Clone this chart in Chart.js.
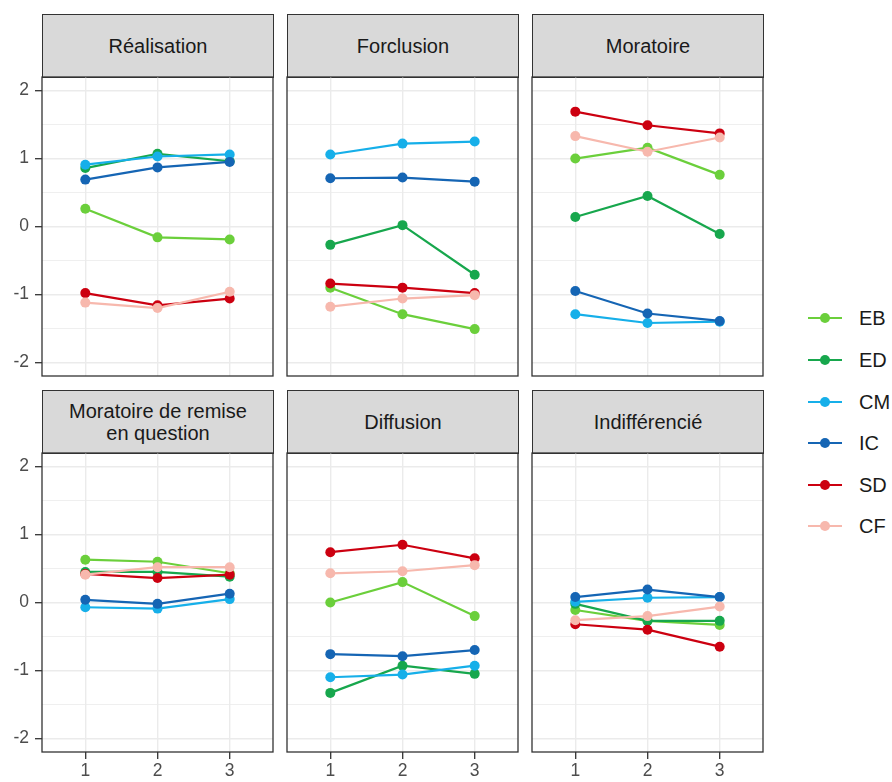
<!DOCTYPE html>
<html>
<head>
<meta charset="utf-8">
<script src="https://cdn.jsdelivr.net/npm/chart.js@4.4.1/dist/chart.umd.min.js"></script>
<style>
  body { margin: 0; background: #fff; font-family: "Liberation Sans", Arial, sans-serif; }
  #stage { position: relative; width: 892px; height: 782px; overflow: hidden; }
  #stage canvas { position: absolute; }
  .strip {
    position: absolute; box-sizing: border-box; background: #d9d9d9; border: 1.3px solid #333;
    display: flex; align-items: center; justify-content: center; text-align: center;
    font-size: 20px; line-height: 22px; color: #1a1a1a; white-space: pre-line;
  }
  .legend-item { position: absolute; left: 808px; height: 24px; width: 84px; }
  .legend-item .ln { position: absolute; left: 0; top: 11px; width: 34px; height: 2.2px; }
  .legend-item .dot { position: absolute; left: 12px; top: 7px; width: 10px; height: 10px; border-radius: 50%; }
  .legend-item .lbl { position: absolute; left: 51px; top: 0; font-size: 20px; line-height: 24px; color: #1a1a1a; }
</style>
</head>
<body>
<div id="stage"></div>
<script>
// facets (read row by row), waves on the x axis, and one series per identity status
const facets = ['Réalisation', 'Forclusion', 'Moratoire', 'Moratoire de remise\nen question', 'Diffusion', 'Indifférencié'];
const waves = [1, 2, 3];
const yTicks = [-2, -1.5, -1, -0.5, 0, 0.5, 1, 1.5, 2];
const seriesNames = ['EB', 'ED', 'CM', 'IC', 'SD', 'CF'];
const seriesColors = ['#6bcf3b', '#17a74d', '#16afe9', '#1565b4', '#cc0010', '#f7b8ad'];

// values per facet, same order as facets
const EB = [[0.26, -0.16, -0.19], [-0.90, -1.29, -1.51], [1.00, 1.16, 0.76], [0.63, 0.60, 0.43], [0.00, 0.30, -0.20], [-0.11, -0.27, -0.33]];
const ED = [[0.86, 1.07, 0.96], [-0.27, 0.02, -0.71], [0.14, 0.45, -0.11], [0.45, 0.45, 0.38], [-1.33, -0.93, -1.05], [-0.02, -0.27, -0.27]];
const CM = [[0.91, 1.03, 1.06], [1.06, 1.22, 1.25], [-1.29, -1.42, -1.40], [-0.07, -0.09, 0.05], [-1.10, -1.06, -0.93], [0.01, 0.07, 0.08]];
const IC = [[0.69, 0.87, 0.95], [0.71, 0.72, 0.66], [-0.95, -1.28, -1.39], [0.04, -0.02, 0.13], [-0.76, -0.79, -0.70], [0.08, 0.19, 0.08]];
const SD = [[-0.98, -1.16, -1.06], [-0.84, -0.90, -0.98], [1.69, 1.49, 1.37], [0.42, 0.36, 0.41], [0.74, 0.85, 0.65], [-0.32, -0.40, -0.65]];
const CF = [[-1.12, -1.20, -0.96], [-1.18, -1.06, -1.01], [1.33, 1.10, 1.31], [0.41, 0.52, 0.52], [0.43, 0.46, 0.55], [-0.26, -0.20, -0.06]];
const seriesValues = [EB, ED, CM, IC, SD, CF];

const stage = document.getElementById('stage');
const colLeft = [42, 287, 532];
const rowTop = [77, 453];
const stripTop = [14, 390];
const panelW = 231, panelH = 299;
const tickFont = { family: '"Liberation Sans", Arial, sans-serif', size: 17.5 };

const borderPlugin = {
  id: 'panelBorder',
  afterDraw(chart) {
    const a = chart.chartArea, ctx = chart.ctx;
    ctx.save();
    ctx.strokeStyle = '#333';
    ctx.lineWidth = 1.3;
    ctx.strokeRect(a.left, a.top, a.right - a.left, a.bottom - a.top);
    ctx.restore();
  }
};

facets.forEach((name, f) => {
  const col = f % 3, row = Math.floor(f / 3);
  const first = col === 0, bottom = row === 1;

  const strip = document.createElement('div');
  strip.className = 'strip';
  strip.textContent = name;
  Object.assign(strip.style, { left: colLeft[col] + 'px', top: stripTop[row] + 'px', width: (panelW + 1) + 'px', height: '64px' });
  stage.appendChild(strip);

  const canvas = document.createElement('canvas');
  const cw = (first ? 42 : 2) + panelW + 2;
  const ch = 2 + panelH + (bottom ? 30 : 2);
  canvas.width = cw; canvas.height = ch;
  Object.assign(canvas.style, { left: (first ? 0 : colLeft[col] - 2) + 'px', top: (rowTop[row] - 2) + 'px', width: cw + 'px', height: ch + 'px' });
  stage.appendChild(canvas);

  const datasets = seriesNames.map((s, i) => ({
    label: s,
    data: waves.map((w, k) => ({ x: w, y: seriesValues[i][f][k] })),
    borderColor: seriesColors[i],
    backgroundColor: seriesColors[i],
    borderWidth: 2.2,
    pointRadius: 5,
    pointBorderWidth: 0,
    order: seriesNames.length - i
  }));

  new Chart(canvas, {
    type: 'line',
    data: { datasets },
    options: {
      responsive: false,
      animation: false,
      layout: { autoPadding: false, padding: { top: 2, right: 2, left: first ? 0 : 2, bottom: bottom ? 0 : 2 } },
      plugins: { legend: { display: false }, tooltip: { enabled: false } },
      scales: {
        x: {
          type: 'linear', min: 0.4, max: 3.6,
          afterBuildTicks: s => { s.ticks = waves.map(v => ({ value: v })); },
          afterFit: s => { s.height = bottom ? 30 : 0; s.paddingLeft = 0; s.paddingRight = 0; s.paddingTop = 0; s.paddingBottom = 0; },
          border: { display: false },
          grid: { color: '#ebebeb', lineWidth: 1.4, drawTicks: bottom, tickLength: 7, tickColor: '#333', tickWidth: 1.3 },
          ticks: { display: bottom, padding: 2, color: '#4d4d4d', font: tickFont, callback: v => String(v) }
        },
        y: {
          type: 'linear', min: -2.2, max: 2.2,
          afterBuildTicks: s => { s.ticks = yTicks.map(v => ({ value: v })); },
          afterFit: s => { s.width = first ? 42 : 0; s.paddingLeft = 0; s.paddingRight = 0; s.paddingTop = 0; s.paddingBottom = 0; },
          border: { display: false },
          grid: {
            color: '#ebebeb',
            lineWidth: c => Number.isInteger(c.tick.value) ? 1.4 : 0.8,
            drawTicks: first, tickLength: 7,
            tickColor: c => Number.isInteger(c.tick.value) ? '#333' : 'rgba(0,0,0,0)',
            tickWidth: 1.3
          },
          ticks: { display: first, padding: 6, color: '#4d4d4d', font: tickFont,
            callback: v => Number.isInteger(v) ? String(v) : '' }
        }
      }
    },
    plugins: [borderPlugin]
  });
});

// legend
const legendTop = [306, 348, 390, 431, 473, 514];
seriesNames.forEach((s, i) => {
  const item = document.createElement('div');
  item.className = 'legend-item';
  item.style.top = legendTop[i] + 'px';
  item.innerHTML = '<div class="ln" style="background:' + seriesColors[i] + '"></div>' +
    '<div class="dot" style="background:' + seriesColors[i] + '"></div>' +
    '<div class="lbl">' + s + '</div>';
  stage.appendChild(item);
});
</script>
</body>
</html>
